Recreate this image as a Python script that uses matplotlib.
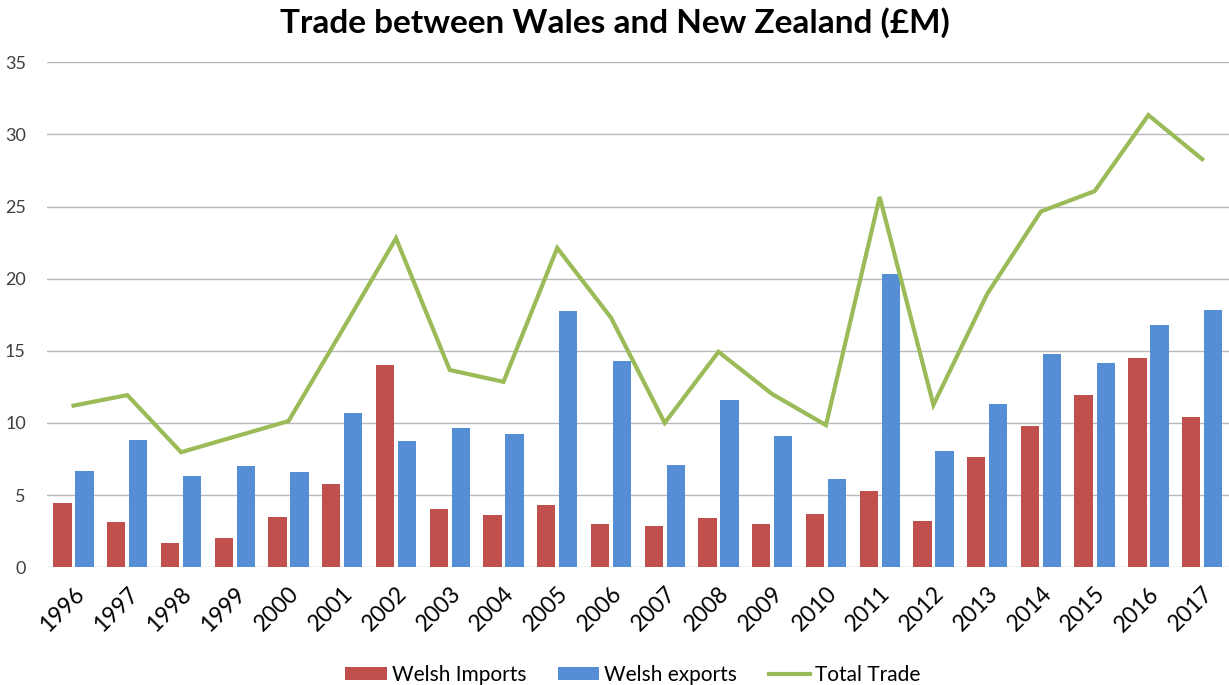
import matplotlib
matplotlib.use("Agg")
import matplotlib.pyplot as plt
import matplotlib.transforms as mtransforms
from matplotlib.patches import Patch
from matplotlib.lines import Line2D
import numpy as np

years = ["1996", "1997", "1998", "1999", "2000", "2001", "2002", "2003", "2004", "2005", "2006",
         "2007", "2008", "2009", "2010", "2011", "2012", "2013", "2014", "2015", "2016", "2017"]
welsh_imports = [4.45, 3.12, 1.65, 1.99, 3.45, 5.74, 14.02, 4.01, 3.59, 4.31, 2.98,
                 2.86, 3.38, 2.98, 3.70, 5.30, 3.23, 7.67, 9.80, 11.91, 14.53, 10.38]
welsh_exports = [6.66, 8.84, 6.31, 7.03, 6.61, 10.69, 8.77, 9.63, 9.21, 17.79, 14.28,
                 7.10, 11.56, 9.07, 6.12, 20.32, 8.04, 11.30, 14.81, 14.13, 16.78, 17.86]
total_trade = [11.2, 11.93, 7.97, 9.05, 10.13, 16.43, 22.8, 13.67, 12.85, 22.13, 17.3,
               10.0, 14.93, 12.0, 9.85, 25.67, 11.25, 18.94, 24.66, 26.07, 31.34, 28.29]

red = "#C0504D"
blue = "#558ED5"
green = "#9BBB59"
font = "Lato"

fig = plt.figure(figsize=(12.29, 6.85), dpi=100)
ax = fig.add_axes([0.038, 0.172, 0.962, 0.737])

x = np.arange(len(years))
w = 0.34
ax.bar(x - 0.205, welsh_imports, width=w, color=red, zorder=3)
ax.bar(x + 0.205, welsh_exports, width=w, color=blue, zorder=3)
ax.plot(x, total_trade, color=green, lw=3.0, zorder=4, solid_joinstyle="miter")

ax.set_xlim(-0.5, len(years) - 0.5)
ax.set_ylim(0, 35)
ax.set_yticks(range(0, 36, 5))
ax.yaxis.grid(True, color="#B8B8B8", lw=1.0, zorder=0)
ax.set_axisbelow(True)
for s in ax.spines.values():
    s.set_visible(False)
ax.tick_params(axis="both", length=0)
ax.tick_params(axis="y", pad=15, labelsize=13, labelcolor="#404040")
for lab in ax.get_yticklabels():
    lab.set_fontfamily(font)

ax.set_xticks(x)
ax.set_xticklabels(years, rotation=45, ha="right", va="top", rotation_mode="anchor",
                   fontsize=16.5, fontfamily=font, color="#000000")
offset = mtransforms.ScaledTranslation(0 / 100, -11 / 100, fig.dpi_scale_trans)
for lab in ax.get_xticklabels():
    lab.set_transform(lab.get_transform() + offset)

fig.text(0.5, 0.967, "Trade between Wales and New Zealand (£M)", ha="center", va="center",
         fontsize=24, fontweight="bold", fontfamily=font)

handles = [Patch(facecolor=red, label="Welsh Imports"),
           Patch(facecolor=blue, label="Welsh exports"),
           Line2D([0], [0], color=green, lw=3, label="Total Trade")]
leg = fig.legend(handles=handles, loc="center", bbox_to_anchor=(0.515, 0.015), ncol=3,
                 frameon=False, prop={"family": font, "size": 15}, handlelength=2.0,
                 handleheight=0.55, handletextpad=0.25, columnspacing=1.5)

fig.savefig("out.png", dpi=100)
